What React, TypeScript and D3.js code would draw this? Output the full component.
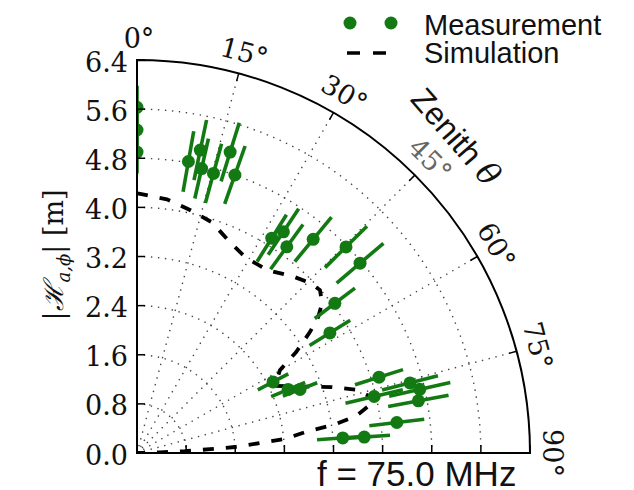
import React from "react";
import * as d3 from "d3";

// ---- data ----
const radialTicks = [0, 0.8, 1.6, 2.4, 3.2, 4.0, 4.8, 5.6, 6.4];
const angleTicks = [0, 15, 30, 45, 60, 75, 90];

const measAngle = [0, 0, 0, 10.0, 11.8, 12.8, 15.3, 17.2, 19.4, 32.1, 33.5, 36.0, 39.5, 45.4, 49.6, 52.9, 58.1, 62.4, 67.2, 68.7, 72.6, 76.6, 75.6, 77.3, 79.5, 83.3, 85.8, 86.0];
const measValue = [5.63, 5.26, 4.9, 4.82, 5.04, 4.75, 4.72, 5.13, 4.8, 4.13, 4.32, 4.15, 4.51, 4.78, 4.77, 4.04, 3.7, 2.5, 2.67, 2.85, 4.13, 3.97, 4.59, 4.72, 4.66, 4.26, 3.36, 3.71];
const measError = [0.35, 0.35, 0.35, 0.5, 0.5, 0.5, 0.5, 0.5, 0.5, 0.45, 0.45, 0.45, 0.47, 0.48, 0.5, 0.41, 0.39, 0.28, 0.3, 0.3, 0.41, 0.48, 0.47, 0.51, 0.5, 0.45, 0.42, 0.42];

const simAngle = [0, 0.7, 6.7, 12.3, 18, 23.5, 29.2, 35.6, 41.2, 45.5, 48.3, 51, 53.1, 55, 57.6, 59.9, 64.1, 71.3, 74, 77.5, 80.4, 81.9, 82.7, 84.6, 85.4, 86.5, 87, 87.8, 88.5, 90];
const simValue = [4.23, 4.22, 4.16, 4.05, 3.95, 3.76, 3.64, 3.66, 3.83, 3.95, 3.99, 3.88, 3.69, 3.44, 3.07, 2.69, 2.5, 3.35, 3.73, 3.99, 3.62, 3.22, 2.81, 2.42, 2.0, 1.6, 1.19, 0.78, 0.38, 0];

const W = 634, H = 490;
const cx = 137, cy = 453, R = 393;
const green = "#137a13";

export default function App() {
  const r = d3.scaleLinear().domain([0, 6.4]).range([0, R]);
  const a = d3.scaleLinear().domain([0, 90]).range([0, Math.PI / 2]);
  const px = (deg: number, v: number) => cx + r(v) * Math.sin(a(deg));
  const py = (deg: number, v: number) => cy - r(v) * Math.cos(a(deg));
  const arcPath = (rad: number) => `M${cx},${cy - rad} A${rad},${rad} 0 0 1 ${cx + rad},${cy}`;
  const wedge = `M${cx},${cy} L${cx},${cy - R} A${R},${R} 0 0 1 ${cx + R},${cy} Z`;

  const simLine = d3
    .lineRadial<number>()
    .angle((_, i) => a(simAngle[i]))
    .radius((d) => r(d))
    .curve(d3.curveLinear);

  const serif = "DejaVu Serif";
  const sans = "Liberation Sans";

  return (
    <div style={{ position: "absolute", left: 0, top: 0 }}>
      <svg width={W} height={H} viewBox={`0 0 ${W} ${H}`} style={{ display: "block", background: "#fff" }}>
        <defs>
          <clipPath id="wedge">
            <path d={wedge} />
          </clipPath>
        </defs>
        {/* grid */}
        <g clipPath="url(#wedge)" stroke="#444" strokeWidth={1.4} strokeDasharray="1.4,5.6" fill="none">
          {radialTicks.slice(1, -1).map((t) => (
            <path key={"c" + t} d={arcPath(r(t))} />
          ))}
          {angleTicks.slice(1, -1).map((t) => (
            <line key={"l" + t} x1={cx} y1={cy} x2={px(t, 6.4)} y2={py(t, 6.4)} />
          ))}
        </g>
        {/* simulation */}
        <g clipPath="url(#wedge)">
          <path
            d={simLine(simValue) || ""}
            transform={`translate(${cx},${cy})`}
            fill="none"
            stroke="#000"
            strokeWidth={3.8}
            strokeDasharray="11,12"
          />
        </g>
        {/* measurements */}
        <g clipPath="url(#wedge)">
          {measValue.map((v, i) => (
            <line
              key={"e" + i}
              x1={px(measAngle[i], v - measError[i])}
              y1={py(measAngle[i], v - measError[i])}
              x2={px(measAngle[i], v + measError[i])}
              y2={py(measAngle[i], v + measError[i])}
              stroke={green}
              strokeWidth={3.6}
            />
          ))}
          {measValue.map((v, i) => (
            <circle key={"m" + i} cx={px(measAngle[i], v)} cy={py(measAngle[i], v)} r={6.5} fill={green} />
          ))}
        </g>
        {/* frame */}
        <path d={wedge} fill="none" stroke="#000" strokeWidth={2} />
        {/* radial ticks on left and bottom axes */}
        {radialTicks.map((t) => (
          <g key={"rt" + t}>
            <line x1={cx} y1={cy - r(t)} x2={cx + 8} y2={cy - r(t)} stroke="#000" strokeWidth={1.5} />
            <line x1={cx + r(t)} y1={cy} x2={cx + r(t)} y2={cy - 8} stroke="#000" strokeWidth={1.5} />
            <text
              x={128}
              y={cy - r(t) + 2}
              textAnchor="end"
              dominantBaseline="central"
              fontFamily={serif}
              fontSize={27}
              fill="#111"
            >
              {t.toFixed(1)}
            </text>
          </g>
        ))}
        {/* angular ticks and labels */}
        {angleTicks.map((t) => (
          <g key={"at" + t}>
            <line x1={px(t, 6.4)} y1={py(t, 6.4)} x2={px(t, 6.4 - 8 / (R / 6.4))} y2={py(t, 6.4 - 8 / (R / 6.4))} stroke="#000" strokeWidth={1.5} />
            <text
              transform={`translate(${px(t, 6.4 + 22 / (R / 6.4)) + (t === 0 ? 2 : 0)},${py(t, 6.4 + 22 / (R / 6.4))}) rotate(${t})`}
              textAnchor="middle"
              dominantBaseline="central"
              fontFamily={serif}
              fontSize={27}
              fill={t === 45 ? "#666" : "#111"}
            >
              {`${t}°`}
            </text>
          </g>
        ))}
        {/* y label */}
        <text transform="translate(63,255) rotate(-90)" textAnchor="middle" fontFamily={serif} fontSize={27} fill="#111">
          |<tspan fontStyle="italic">ℋ</tspan>
          <tspan fontSize={18} dy={7} fontStyle="italic">a,ϕ</tspan>
          <tspan dy={-7}>| [m]</tspan>
        </text>
        {/* Zenith label */}
        <text
          transform="translate(456,137) rotate(49)"
          textAnchor="middle"
          dominantBaseline="central"
          fontFamily={sans}
          fontSize={32}
          fill="#111"
        >
          Zenith <tspan fontFamily={serif} fontStyle="italic">θ</tspan>
        </text>
        {/* legend */}
        <circle cx={350} cy={23} r={6.5} fill={green} />
        <circle cx={391} cy={23} r={6.5} fill={green} />
        <line x1={347} y1={53} x2={386} y2={53} stroke="#000" strokeWidth={3.6} strokeDasharray="13,13" />
        <text x={424} y={35} fontFamily={sans} fontSize={29} fill="#111">Measurement</text>
        <text x={424} y={63} fontFamily={sans} fontSize={29} fill="#111">Simulation</text>
        {/* frequency */}
        <text x={317} y={486} fontFamily={sans} fontSize={35} fill="#111">f = 75.0 MHz</text>
      </svg>
    </div>
  );
}
